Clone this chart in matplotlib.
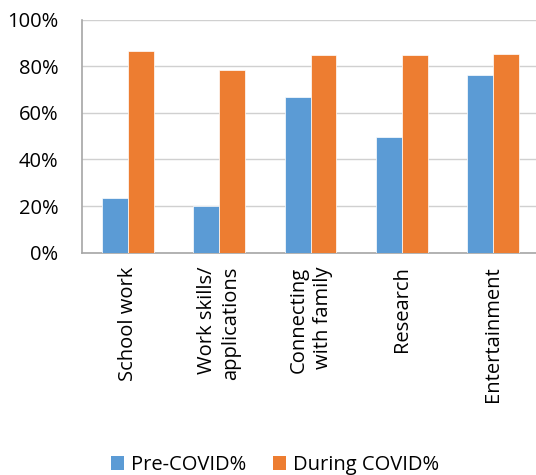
import numpy as np
import matplotlib
matplotlib.use('Agg')
import matplotlib.pyplot as plt
from matplotlib.patches import Patch

categories = ['School work', 'Work skills/\napplications', 'Connecting\nwith family',
              'Research', 'Entertainment']
pre_covid = [23.3, 20.0, 66.8, 49.5, 76.4]
during_covid = [86.5, 78.3, 84.9, 84.9, 85.0]
series_names = ['Pre-COVID%', 'During COVID%']
yticks = [0, 20, 40, 60, 80, 100]

blue = '#5b9bd5'
orange = '#ed7d31'

plt.rcParams['font.family'] = ['Open Sans', 'DejaVu Sans']
plt.rcParams['font.size'] = 14.5

fig = plt.figure(figsize=(5.36, 4.75), dpi=100)
# axes right edge runs slightly past the image, like the cropped original
ax = fig.add_axes([82 / 536, 1 - 252.7 / 475, (539 - 82) / 536, (252.7 - 19.5) / 475])

x = np.arange(len(categories))
w = 0.284
ax.bar(x - w / 2, pre_covid, w, color=blue, edgecolor='white', linewidth=0.5, zorder=3)
ax.bar(x + w / 2, during_covid, w, color=orange, edgecolor='white', linewidth=0.5, zorder=3)

ax.set_xlim(-0.5, len(categories) - 0.5)
ax.set_ylim(0, 100)
ax.set_yticks(yticks)
ax.set_yticklabels(['%d%%' % v for v in yticks])
ax.yaxis.grid(True, color='#d0d0d0', linewidth=1.0, zorder=0)
ax.set_axisbelow(True)

ax.set_xticks(x)
ax.set_xticklabels(categories, rotation=90, va='top', ha='center',
                   multialignment='right', linespacing=1.3)
ax.tick_params(axis='x', length=0, pad=10)
ax.tick_params(axis='y', length=0, pad=17)

for s in ['top', 'right']:
    ax.spines[s].set_visible(False)
for s in ['left', 'bottom']:
    ax.spines[s].set_color('#a6a6a6')
    ax.spines[s].set_linewidth(1.2)

handles = [Patch(facecolor=blue), Patch(facecolor=orange)]
fig.legend(handles, series_names, loc='center', bbox_to_anchor=(0.513, 0.021),
           ncol=2, frameon=False, handlelength=0.65, handleheight=0.65,
           handletextpad=0.35, columnspacing=1.3, borderaxespad=0)

fig.savefig('out.png', dpi=100)
